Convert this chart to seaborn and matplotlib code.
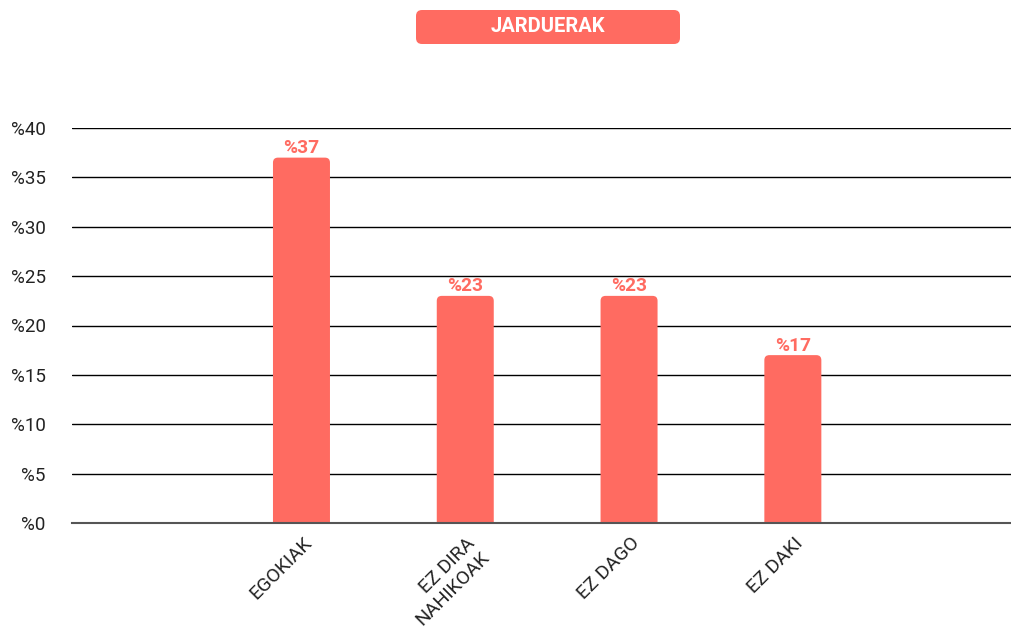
import matplotlib
matplotlib.use("Agg")
import matplotlib.pyplot as plt
import matplotlib.transforms as mtransforms
from matplotlib.patches import FancyBboxPatch
import seaborn as sns

categories = ["EGOKIAK", "EZ DIRA\nNAHIKOAK", "EZ DAGO", "EZ DAKI"]
values = [37, 23, 23, 17]
yticks = [0, 5, 10, 15, 20, 25, 30, 35, 40]
ytick_labels = [f"%{t}" for t in yticks]
title = "JARDUERAK"

BAR = "#FF6B61"

sns.set_theme(style="white")
plt.rcParams["font.family"] = ["Roboto", "DejaVu Sans"]

fig = plt.figure(figsize=(10.12, 6.28), dpi=100)
ax = fig.add_axes([72 / 1012, 105 / 628, 940 / 1012, 395 / 628])

sns.barplot(x=categories, y=values, color=BAR, saturation=1, width=0.348, ax=ax)

ax.set_xlim(-1.401, 4.338)
ax.set_ylim(0, 40)

# replace bars with rounded-top versions
px_x = 163.8
px_y = 395 / 40
r = 5 / px_x
aspect = (5 / px_y) / r
bars = list(ax.patches)
for p, v in zip(bars, values):
    x0, w, h = p.get_x(), p.get_width(), p.get_height()
    p.set_visible(False)
    fb = FancyBboxPatch((x0, -2), w, h + 2,
                        boxstyle=f"round,pad=0,rounding_size={r}",
                        mutation_aspect=aspect, facecolor=BAR, edgecolor="none",
                        zorder=3)
    ax.add_patch(fb)
    ax.text(x0 + w / 2, h + 0.05, f"%{v}", ha="center", va="bottom",
            color=BAR, fontsize=13.75, fontweight="bold", zorder=4)

ax.set_yticks(yticks)
ax.set_yticklabels(ytick_labels)
ax.tick_params(axis="y", length=0, pad=19, labelsize=13.5, labelcolor="#222222")
ax.tick_params(axis="x", length=0, pad=8, labelsize=14, labelcolor="#222222")
for lab in ax.get_yticklabels():
    lab.set_horizontalalignment("right")

offset = mtransforms.ScaledTranslation(1 / 100, 0, fig.dpi_scale_trans)
for lab in ax.get_xticklabels():
    lab.set_rotation(45)
    lab.set_rotation_mode("anchor")
    lab.set_horizontalalignment("right")
    lab.set_verticalalignment("top")
    lab.set_multialignment("right")
    lab.set_linespacing(1.15)
    lab.set_transform(lab.get_transform() + offset)

ax.grid(axis="y", color="black", linewidth=1.0)
ax.grid(axis="x", visible=False)
ax.set_axisbelow(True)
for s in ["top", "right", "left"]:
    ax.spines[s].set_visible(False)
ax.spines["bottom"].set_color("#555555")
ax.spines["bottom"].set_linewidth(1.5)
ax.spines["bottom"].set_zorder(5)
ax.set_xlabel("")
ax.set_ylabel("")

# title box
tb = FancyBboxPatch((4.16, 5.84), 2.64, 0.34,
                    boxstyle="round,pad=0,rounding_size=0.06",
                    transform=fig.dpi_scale_trans, facecolor=BAR,
                    edgecolor="none")
fig.patches.append(tb)
tb.set_figure(fig)
fig.text(548 / 1012, 1 - 27 / 628, title, ha="center", va="center",
         color="white", fontsize=14.5, fontweight="bold")

fig.savefig("out.png", dpi=100)
